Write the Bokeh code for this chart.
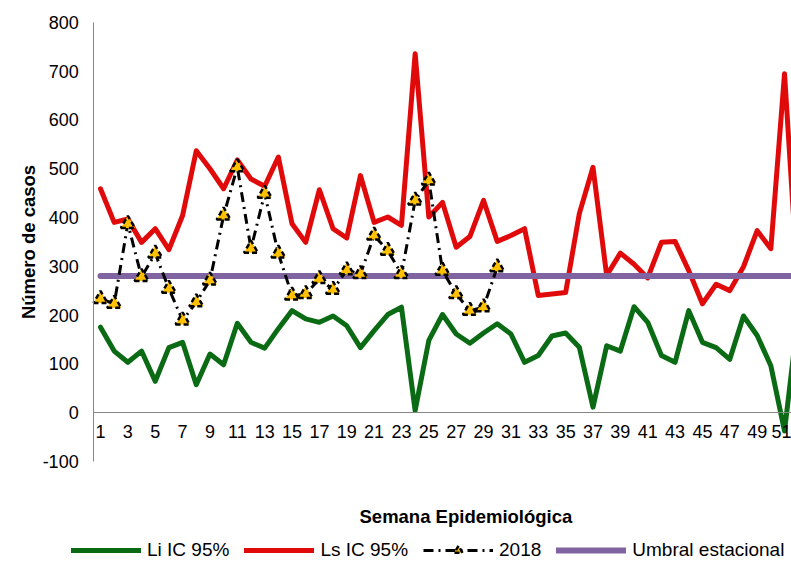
from bokeh.plotting import figure
from bokeh.models import Range1d, FixedTicker, Legend, LegendItem, Label
from bokeh.embed import file_html
from bokeh.resources import INLINE

# ---- data ----
weeks = list(range(1, 53))
li_ic95 = [175, 126, 103, 126, 64, 133, 144, 57, 120, 98,
           183, 144, 132, 172, 209, 192, 185, 198, 178, 133,
           168, 201, 216, 4, 148, 201, 161, 142, 163, 182,
           161, 103, 117, 157, 163, 134, 11, 137, 126, 217,
           185, 117, 103, 209, 144, 133, 109, 198, 158, 96,
           -38, 200]
ls_ic95 = [459, 390, 397, 349, 377, 334, 404, 537, 500, 459,
           518, 479, 464, 524, 387, 349, 457, 377, 358, 486,
           390, 401, 384, 736, 401, 431, 339, 361, 435, 351,
           363, 377, 240, 243, 246, 408, 503, 281, 327, 304,
           276, 349, 351, 291, 223, 263, 250, 299, 373, 336,
           695, 250]
weeks_2018 = list(range(1, 31))
cases_2018 = [233, 223, 387, 278, 326, 254, 189, 226, 271, 404,
              503, 336, 449, 326, 240, 243, 274, 252, 292, 284,
              363, 332, 284, 435, 476, 291, 243, 209, 216, 298]
umbral_estacional = [280] * len(weeks)
x_ticks = list(range(1, 52, 2))
y_ticks = [-100, 0, 100, 200, 300, 400, 500, 600, 700, 800]

FONT = "Liberation Sans"

# The frame covers the whole canvas; both axes are placed at fixed locations.
p = figure(width=791, height=561, output_backend="svg", toolbar_location=None,
           x_range=Range1d(-6.31, 51.51), y_range=Range1d(-305.6, 845.1),
           min_border_left=0, min_border_right=0, min_border_top=0,
           min_border_bottom=0)
p.outline_line_color = None
p.xgrid.visible = False
p.ygrid.visible = False
p.background_fill_color = "white"
p.border_fill_color = "white"

# x axis at y = 0
p.xaxis.fixed_location = 0
p.xaxis.bounds = (0.5, 52)
p.xaxis.ticker = FixedTicker(ticks=x_ticks)
p.xaxis.major_tick_out = 0
p.xaxis.major_tick_in = 0
p.xaxis.minor_tick_out = 0
p.xaxis.minor_tick_in = 0
p.xaxis.axis_line_color = "#868686"
p.xaxis.major_label_text_font = FONT
p.xaxis.major_label_text_font_size = "18px"
p.xaxis.major_label_text_color = "black"
p.xaxis.major_label_standoff = 12

# y axis at the left edge of week 1
p.yaxis.fixed_location = 0.5
p.yaxis.bounds = (-100, 800)
p.yaxis.ticker = FixedTicker(ticks=y_ticks)
p.yaxis.major_label_overrides = {-100: "-100"}
p.yaxis.major_tick_out = 0
p.yaxis.major_tick_in = 0
p.yaxis.minor_tick_out = 0
p.yaxis.minor_tick_in = 0
p.yaxis.axis_line_color = "#868686"
p.yaxis.major_label_text_font = FONT
p.yaxis.major_label_text_font_size = "18px"
p.yaxis.major_label_text_color = "black"
p.yaxis.major_label_standoff = 15
p.yaxis.axis_label = "Número de casos"
p.yaxis.axis_label_text_font = FONT
p.yaxis.axis_label_text_font_size = "18.5px"
p.yaxis.axis_label_text_font_style = "bold"
p.yaxis.axis_label_text_color = "black"
p.yaxis.axis_label_standoff = 0

# series
r_li = p.line(weeks, li_ic95, line_color="#0B6B14", line_width=5,
              line_join="round", line_cap="round")
r_ls = p.line(weeks, ls_ic95, line_color="#E10A0A", line_width=5,
              line_join="round", line_cap="round")
r_um = p.line(weeks, umbral_estacional, line_color="#8064A2", line_width=6,
              line_cap="round")
r_18l = p.line(weeks_2018, cases_2018, line_color="black", line_width=3,
               line_dash="10 5 2 5")
r_18m = p.scatter(weeks_2018, cases_2018, marker="triangle", size=14,
                  fill_color="#FFC000", line_color="black", line_width=2.5,
                  line_dash="5 3")

xtitle = Label(x=359, y=45, x_units="screen", y_units="screen",
               text="Semana Epidemiológica", text_font=FONT,
               text_font_size="18.5px", text_font_style="bold",
               text_color="black", text_baseline="middle", text_align="left")
p.add_layout(xtitle)

legend = Legend(items=[
    LegendItem(label="Li IC 95%", renderers=[r_li]),
    LegendItem(label="Ls IC 95%", renderers=[r_ls]),
    LegendItem(label="2018", renderers=[r_18l, r_18m]),
    LegendItem(label="Umbral estacional", renderers=[r_um]),
], orientation="horizontal", location=(71, 0), glyph_width=70, glyph_height=20,
    label_standoff=6, spacing=15, padding=0, margin=0,
    label_text_font=FONT, label_text_font_size="19px", label_text_color="black",
    border_line_color=None, background_fill_alpha=0)
p.add_layout(legend)

open("out.html", "w").write(file_html(p, INLINE))
